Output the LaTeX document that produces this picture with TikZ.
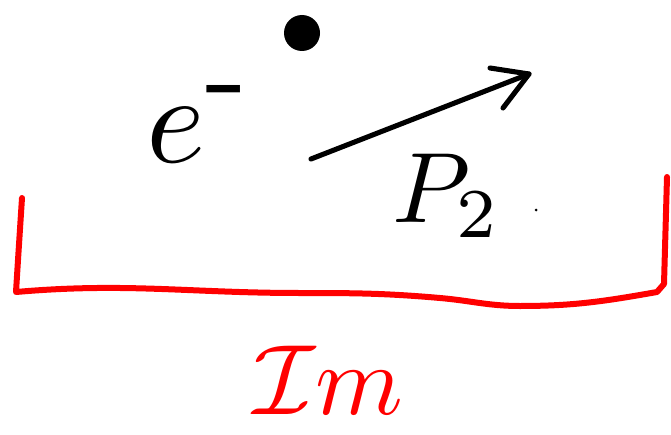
\documentclass[tikz,border=0pt]{standalone}
\usetikzlibrary{arrows.meta}
\definecolor{penred}{RGB}{255,0,0}
\begin{document}
\begin{tikzpicture}[x=0.75pt,y=-0.75pt,
  ink/.style={line width=3.8pt,line cap=round,line join=round},
  redink/.style={line width=4.5pt,line cap=round,line join=round,draw=penred},
  big/.style={inner sep=0pt}]
\useasboundingbox (0,0) rectangle (671,435);
% particle
\fill (302,33) circle[radius=18];
% labels
\node[big] (e) at (200,124) {\scalebox{9.5}{$e^{\mbox{-}}$}};
\node[big] (p) at (447,196) {\scalebox{7.5}{$P_2$}};
\node[big,text=penred] (im) at (328,380) {\scalebox{7.5}{$\mathcal{I}m$}};
% momentum arrow
\coordinate (a0) at (311,159);
\coordinate (a1) at (529,74);
\coordinate (b1) at (490,68);
\coordinate (b2) at (503,108);
\draw[ink] (a0) -- (a1);
\draw[ink] (b1) -- (a1) -- (b2);
% red bracket
\coordinate (l0) at (22,198);
\coordinate (l1) at (16,292);
\coordinate (r1) at (657,292);
\coordinate (r0) at (667,177);
\draw[redink] (l0) -- (18,260) -- (l1)
  to[out=5,in=180] (300,293) to[out=0,in=175] (440,298)
  to[out=-5,in=180] (520,306) to[out=0,in=190] (r1) -- (664,284) -- (r0);
% stray dot
\fill (536,210) circle[radius=1.5];
\end{tikzpicture}
\end{document}
